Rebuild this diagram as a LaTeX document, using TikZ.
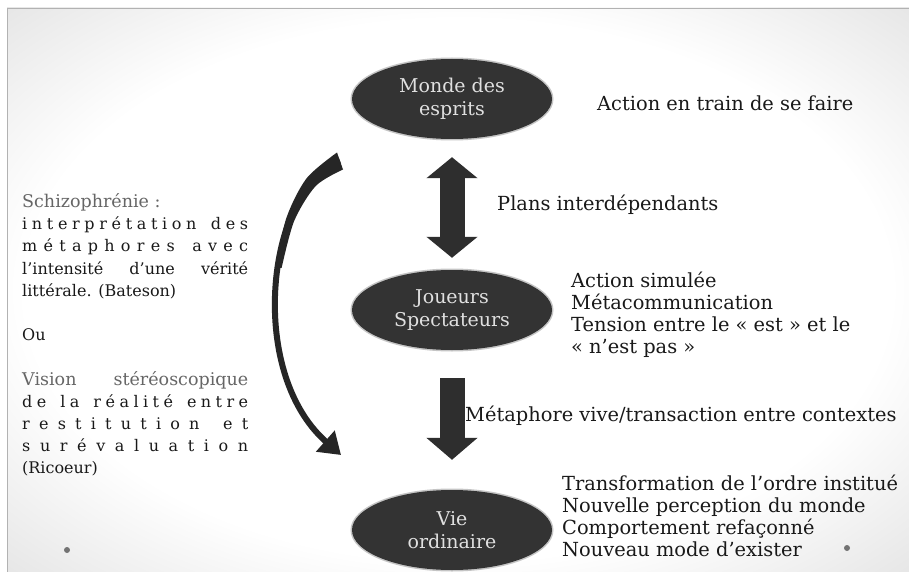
\documentclass[tikz,border=0pt]{standalone}
\usepackage{fontspec}
\setmainfont{DejaVu Serif}
\usetikzlibrary{arrows.meta,shapes.geometric}
\pgfdeclareradialshading{glow}{\pgfpoint{0bp}{0bp}}{color(0bp)=(white); color(24bp)=(white); color(50bp)=(black!22); color(72bp)=(black!38)}
\tikzset{
  bubble/.style={ellipse,fill=black!80,text=black!12,minimum width=200pt,minimum height=80pt,inner sep=0pt,align=center,
    preaction={draw=black!45,line width=3pt,opacity=0.5},font=\fontsize{19}{23}\selectfont},
  txt/.style={anchor=west,inner sep=0pt,align=left,text=black!90,font=\fontsize{19.4}{22}\selectfont},
  blockarrow/.style={line width=25pt,black!82},
  bendarrow/.style={line width=6pt,black!85,-{Triangle[width=27pt,length=21pt]}}
}
% letters spread over the width of the left column
\newcommand{\spreadline}[1]{\makebox[226pt][s]{\spreadfirst#1\relax}}
\def\spreadfirst#1{#1\spreadnext}
\def\spreadnext#1{\ifx#1\relax\else\hskip0pt plus1fil\relax#1\expandafter\spreadnext\fi}
\newcommand{\fullline}[1]{\makebox[226pt][s]{#1}}
\begin{document}
\begin{tikzpicture}[x=1pt,y=-1pt]
\useasboundingbox (0,0) rectangle (909,572);
\shade[shading=glow] (7,8) rectangle (909,572);
\draw[black!30] (7,572) -- (7,8) -- (909,8);

\node[bubble] (monde) at (452,99) {Monde des\\esprits};
\node[bubble] (joueurs) at (452,310) {Joueurs\\Spectateurs};
\node[bubble] (vie) at (452,530) {Vie\\ordinaire};

\draw[blockarrow,{Triangle[width=50pt,length=21pt]}-{Triangle[width=50pt,length=21pt]}] ([yshift=-18pt]monde.south) -- ([yshift=12pt]joueurs.north);
\draw[blockarrow,-{Triangle[width=50pt,length=22pt]}] ([yshift=-28pt]joueurs.south) -- ([yshift=30pt]vie.north);

\coordinate (ctop) at (340,161);
\coordinate (ctip) at (341,455);
\fill[black!85] plot[smooth] coordinates {(337,152.5) (306.6,178.3) (286.4,217.9) (275.6,267.7)}
  -- plot[smooth] coordinates {(281.6,268) (294.2,220.9) (315.8,185.9) (343,169.5)} -- cycle;
\draw[bendarrow] (ctop) .. controls (268,186) and (245,370) .. (ctip);

\node[txt] (faire) at (597,103) {Action en train de se faire};
\node[txt] (plans) at (497,205) {Plans interdépendants};
\node[txt] (simul) at (571,315) {Action simulée\\Métacommunication\\Tension entre le « est » et le\\« n’est pas »};
\node[txt] (vive) at (465,416) {Métaphore vive/transaction entre contextes};
\node[txt] (ordre) at (562,516) {Transformation de l’ordre institué\\Nouvelle perception du monde\\Comportement refaçonné\\Nouveau mode d’exister};

\node[txt,font=\fontsize{16}{22.2}\selectfont] (notes) at (22,335) {\textcolor{black!60}{\fontsize{17.5}{22.2}\selectfont Schizophrénie :}\\
\spreadline{interprétation~des}\\
\spreadline{métaphores~avec}\\
\fullline{l’intensité d’une vérité}\\
littérale. (Bateson)\\[22.2pt]
Ou\\[22.2pt]
\textcolor{black!60}{\fontsize{17.5}{22.2}\selectfont\fullline{Vision stéréoscopique}}\\
\spreadline{de~la~réalité~entre}\\
\spreadline{restitution~et}\\
\spreadline{surévaluation}\\
(Ricoeur)};

\fill[black!55] (67,550) circle (3);
\fill[black!55] (847,548) circle (3);
\end{tikzpicture}
\end{document}
